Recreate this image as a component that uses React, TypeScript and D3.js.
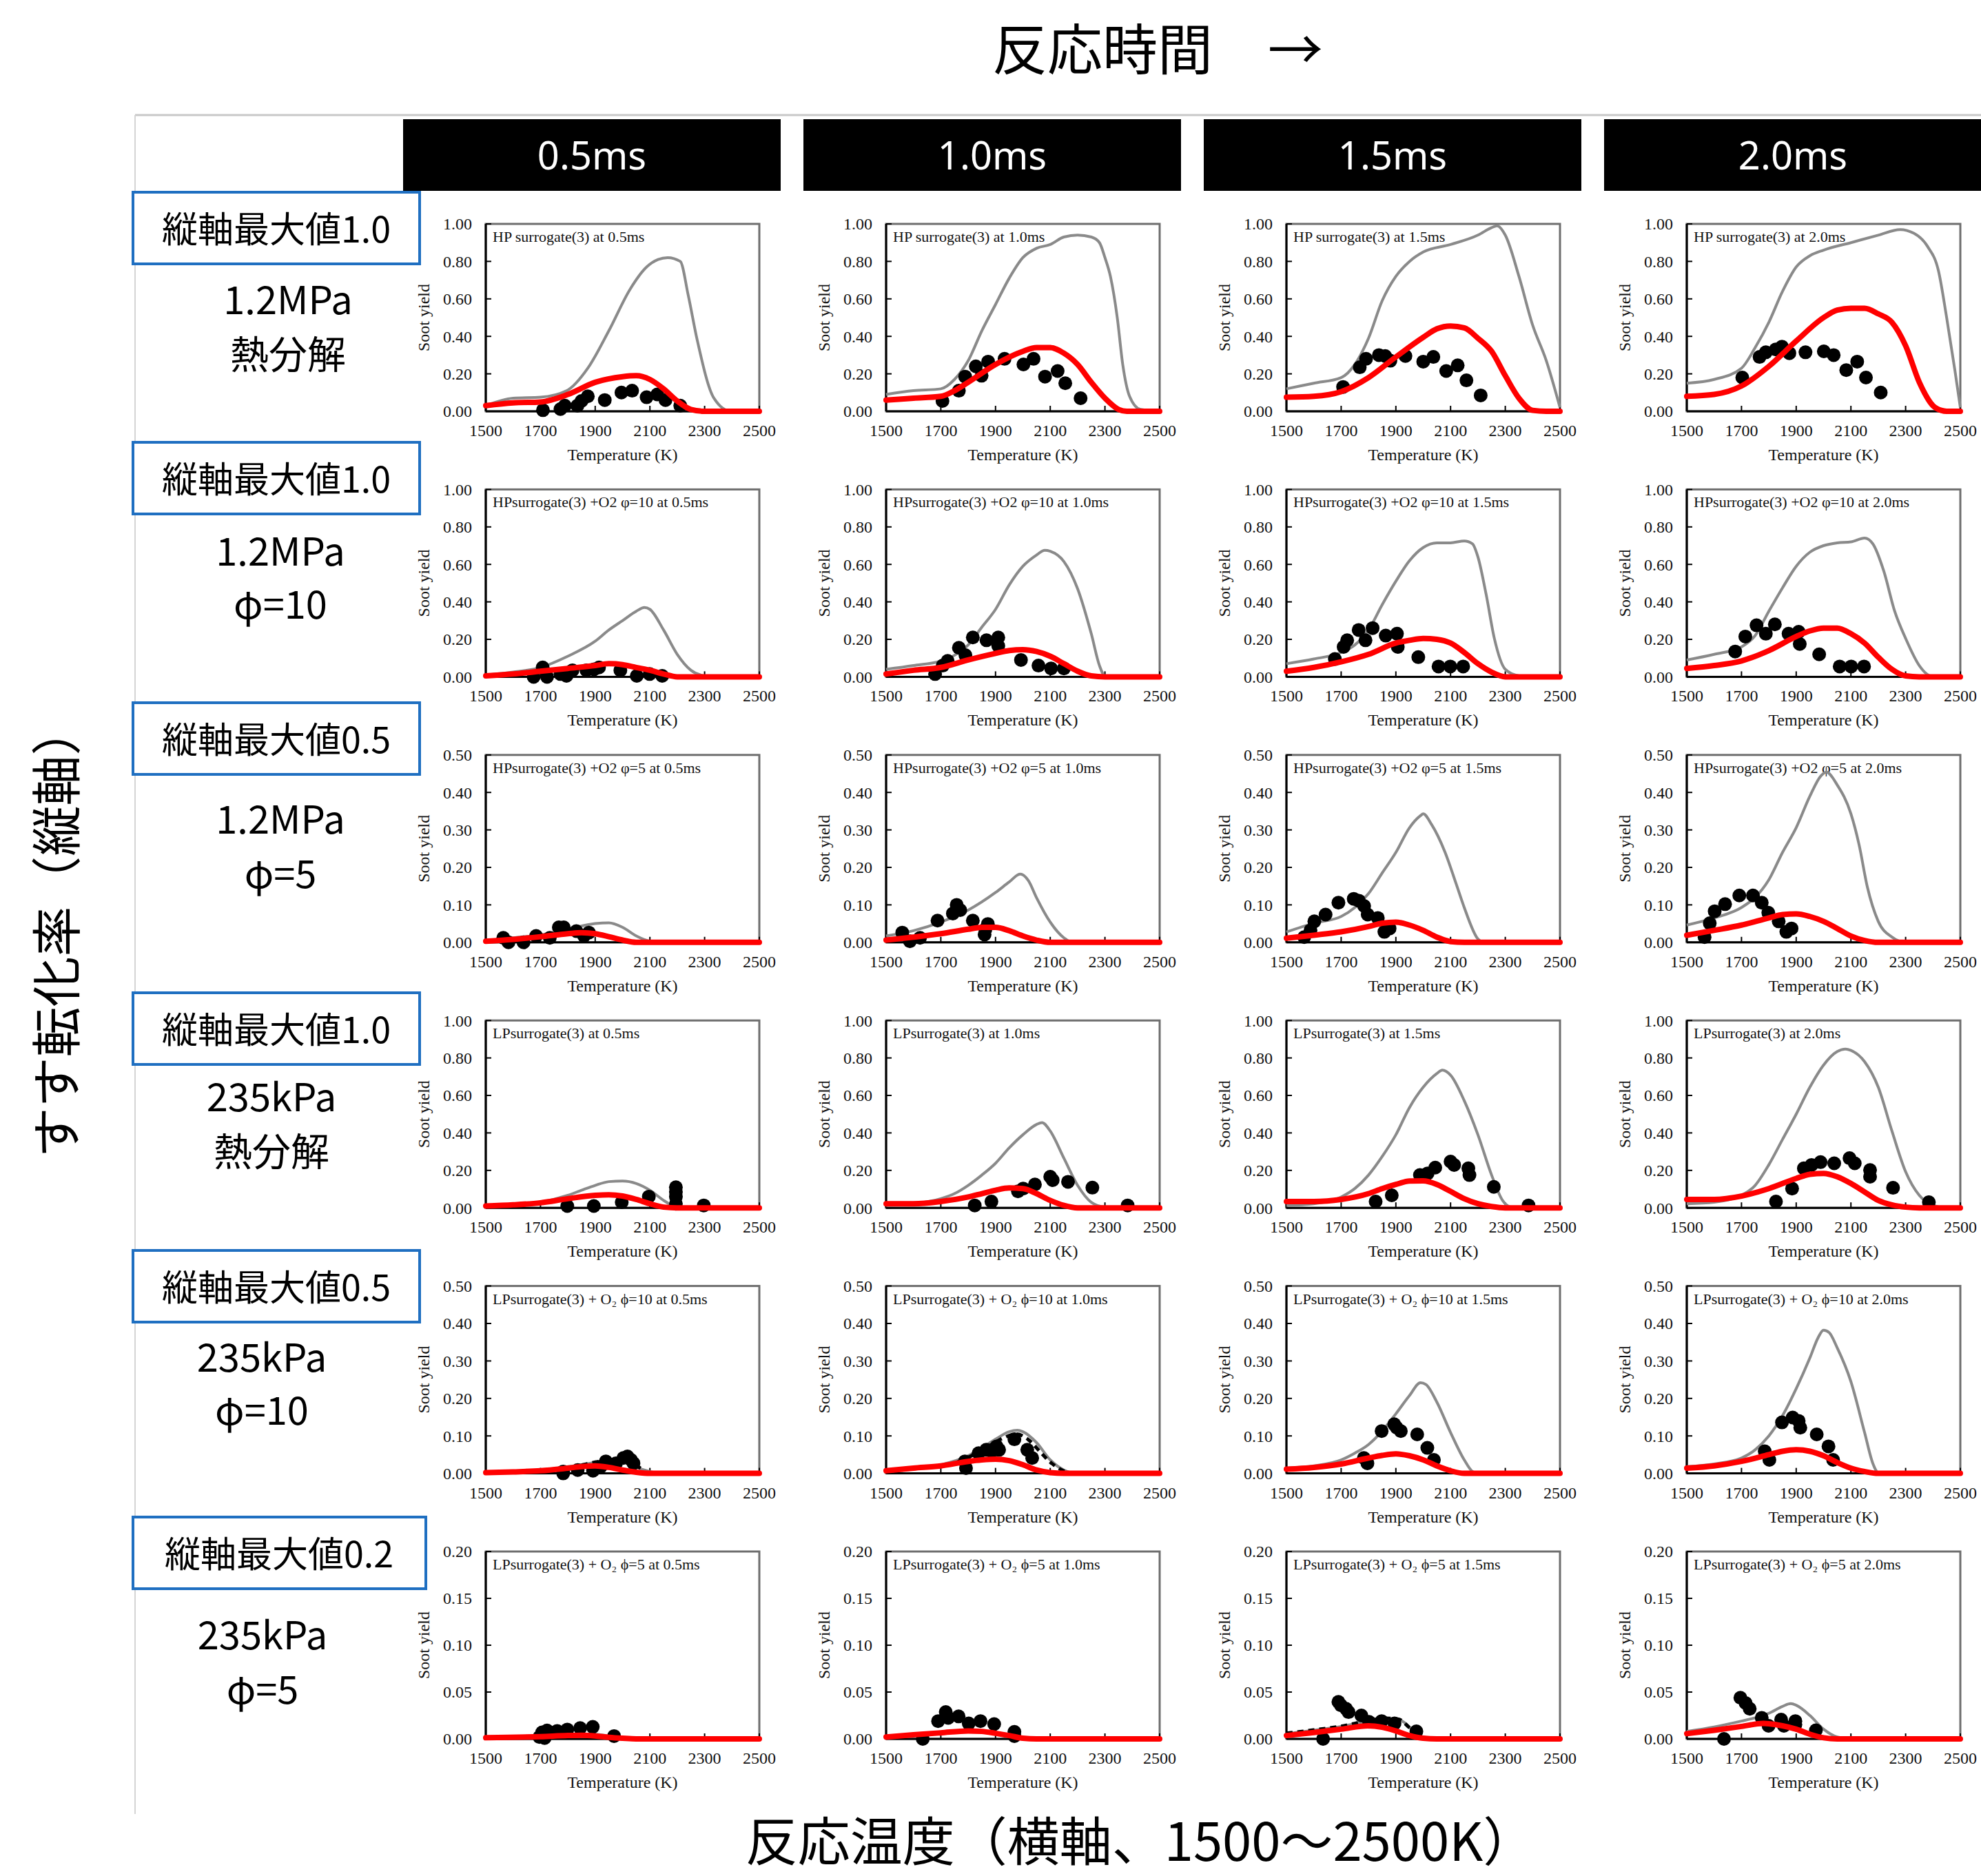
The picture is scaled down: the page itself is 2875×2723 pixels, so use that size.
import React from "react";
import * as d3 from "d3";

// ---------- labels ----------
const TIME_LABELS = ["0.5ms", "1.0ms", "1.5ms", "2.0ms"];
const ROW_MAX_LABELS = ["縦軸最大値1.0", "縦軸最大値1.0", "縦軸最大値0.5", "縦軸最大値1.0", "縦軸最大値0.5", "縦軸最大値0.2"];
const ROW_PRESSURE = ["1.2MPa", "1.2MPa", "1.2MPa", "235kPa", "235kPa", "235kPa"];
const ROW_CONDITION = ["熱分解", "φ=10", "φ=5", "熱分解", "φ=10", "φ=5"];
const TITLE_PREFIX = [
  "HP surrogate(3) at ",
  "HPsurrogate(3) +O2 φ=10 at ",
  "HPsurrogate(3) +O2 φ=5 at ",
  "LPsurrogate(3) at ",
  "LPsurrogate(3) + O₂  ϕ=10  at ",
  "LPsurrogate(3) + O₂  ϕ=5  at ",
];
const Y_MAX = [1, 1, 0.5, 1, 0.5, 0.2];
const Y_STEP = [0.2, 0.2, 0.1, 0.2, 0.1, 0.05];
const X_TICKS = [1500, 1700, 1900, 2100, 2300, 2500];

// ---------- data: row 1 (1.2MPa pyrolysis) ----------
const grayR1 = [
  [[1500,0.03],[1600,0.07],[1700,0.075],[1796,0.11],[1873,0.23],[1950,0.43],[2027,0.65],[2088,0.77],[2130,0.81],[2165,0.82],[2211,0.80],[2240,0.62],[2273,0.38],[2334,0.07],[2396,0],[2500,0]],
  [[1500,0.09],[1600,0.11],[1700,0.12],[1750,0.17],[1800,0.27],[1850,0.43],[1900,0.57],[1950,0.71],[2000,0.82],[2050,0.87],[2100,0.89],[2150,0.93],[2200,0.94],[2250,0.93],[2280,0.9],[2300,0.82],[2320,0.72],[2345,0.5],[2365,0.25],[2390,0.08],[2430,0.01],[2500,0]],
  [[1500,0.12],[1600,0.15],[1700,0.18],[1750,0.25],[1800,0.39],[1850,0.59],[1900,0.72],[1950,0.80],[2000,0.85],[2100,0.89],[2200,0.94],[2250,0.98],[2270,0.99],[2300,0.94],[2350,0.72],[2400,0.46],[2450,0.27],[2500,0.02]],
  [[1500,0.15],[1600,0.17],[1700,0.23],[1750,0.34],[1800,0.475],[1850,0.64],[1900,0.77],[1950,0.83],[2000,0.86],[2100,0.9],[2200,0.94],[2280,0.97],[2330,0.95],[2380,0.88],[2420,0.75],[2450,0.5],[2480,0.22],[2500,0.02]],
];
const redR1 = [
  [[1500,0.03],[1600,0.045],[1700,0.05],[1800,0.09],[1900,0.155],[2000,0.185],[2050,0.19],[2100,0.17],[2150,0.12],[2200,0.055],[2250,0.01],[2300,0],[2500,0]],
  [[1500,0.06],[1600,0.07],[1700,0.08],[1750,0.11],[1800,0.155],[1900,0.25],[2000,0.32],[2050,0.34],[2100,0.34],[2150,0.31],[2200,0.25],[2250,0.155],[2300,0.07],[2350,0.01],[2380,0],[2500,0]],
  [[1500,0.075],[1600,0.08],[1700,0.105],[1800,0.18],[1900,0.29],[2000,0.395],[2050,0.44],[2100,0.455],[2150,0.445],[2200,0.39],[2250,0.32],[2300,0.19],[2350,0.07],[2400,0.005],[2450,0],[2500,0]],
  [[1500,0.08],[1600,0.09],[1700,0.135],[1800,0.24],[1900,0.375],[2000,0.5],[2050,0.54],[2100,0.55],[2150,0.55],[2200,0.52],[2250,0.475],[2300,0.35],[2350,0.155],[2400,0.03],[2430,0.005],[2450,0],[2500,0]],
];
const dotsR1 = [
  [[1709,0.006],[1773,0.012],[1789,0.03],[1835,0.03],[1850,0.055],[1873,0.08],[1935,0.06],[1996,0.1],[2035,0.11],[2088,0.075],[2127,0.09],[2157,0.06],[2211,0.03]],
  [[1706,0.055],[1766,0.11],[1789,0.185],[1828,0.24],[1849,0.19],[1873,0.265],[1933,0.28],[2002,0.25],[2039,0.28],[2081,0.185],[2127,0.215],[2155,0.15],[2211,0.07]],
  [[1707,0.13],[1768,0.235],[1791,0.28],[1838,0.3],[1861,0.295],[1880,0.27],[1935,0.295],[2000,0.265],[2037,0.29],[2084,0.215],[2126,0.245],[2158,0.165],[2210,0.085]],
  [[1703,0.18],[1766,0.29],[1789,0.315],[1825,0.33],[1848,0.345],[1875,0.31],[1934,0.315],[2001,0.32],[2037,0.3],[2083,0.22],[2123,0.265],[2155,0.18],[2209,0.1]],
];

// ---------- row 2 (1.2MPa phi=10) ----------
const grayR2 = [
  [[1500,0.01],[1600,0.025],[1700,0.05],[1800,0.11],[1900,0.19],[1950,0.25],[2000,0.3],[2050,0.35],[2080,0.37],[2100,0.36],[2150,0.25],[2200,0.12],[2250,0.035],[2300,0.005],[2350,0],[2500,0]],
  [[1500,0.04],[1600,0.06],[1700,0.085],[1750,0.115],[1800,0.17],[1850,0.265],[1900,0.36],[1950,0.49],[2000,0.59],[2050,0.65],[2080,0.675],[2100,0.67],[2150,0.615],[2200,0.47],[2250,0.23],[2280,0.06],[2300,0.005],[2350,0],[2500,0]],
  [[1500,0.07],[1600,0.095],[1700,0.13],[1750,0.17],[1800,0.25],[1850,0.385],[1900,0.51],[1950,0.62],[2000,0.69],[2050,0.715],[2100,0.715],[2150,0.725],[2180,0.71],[2200,0.64],[2230,0.44],[2260,0.205],[2300,0.04],[2350,0.005],[2400,0],[2500,0]],
  [[1500,0.09],[1600,0.12],[1700,0.16],[1750,0.22],[1800,0.35],[1850,0.475],[1900,0.59],[1950,0.665],[2000,0.7],[2050,0.715],[2100,0.72],[2150,0.74],[2180,0.71],[2220,0.565],[2260,0.35],[2300,0.205],[2350,0.06],[2390,0.005],[2420,0],[2500,0]],
];
const redR2 = [
  [[1500,0.005],[1600,0.015],[1700,0.03],[1800,0.045],[1900,0.06],[1950,0.07],[2000,0.065],[2050,0.05],[2100,0.035],[2150,0.015],[2200,0],[2500,0]],
  [[1500,0.015],[1600,0.035],[1700,0.05],[1800,0.09],[1900,0.125],[1950,0.14],[2000,0.145],[2050,0.135],[2100,0.11],[2150,0.07],[2200,0.03],[2250,0.005],[2300,0],[2500,0]],
  [[1500,0.03],[1600,0.05],[1700,0.08],[1800,0.12],[1900,0.18],[1950,0.195],[2000,0.205],[2050,0.2],[2100,0.18],[2150,0.13],[2200,0.07],[2250,0.025],[2300,0],[2500,0]],
  [[1500,0.045],[1600,0.06],[1700,0.085],[1800,0.14],[1900,0.215],[1950,0.245],[2000,0.26],[2050,0.26],[2100,0.23],[2150,0.18],[2200,0.105],[2250,0.04],[2300,0.005],[2350,0],[2500,0]],
];
const dotsR2 = [
  [[1675,0],[1708,0.05],[1724,0],[1773,0.015],[1795,0.005],[1817,0.035],[1868,0.035],[1896,0.04],[1914,0.05],[1992,0.035],[2052,0.005],[2099,0.015],[2145,0.005]],
  [[1679,0.015],[1707,0.06],[1725,0.085],[1766,0.155],[1790,0.115],[1817,0.21],[1867,0.195],[1910,0.21],[1910,0.165],[1993,0.09],[2057,0.06],[2103,0.045],[2150,0.045]],
  [[1677,0.095],[1709,0.16],[1722,0.195],[1764,0.25],[1789,0.195],[1815,0.26],[1863,0.22],[1904,0.23],[1907,0.16],[1982,0.105],[2056,0.055],[2099,0.055],[2146,0.055]],
  [[1677,0.135],[1714,0.215],[1755,0.275],[1789,0.23],[1822,0.28],[1872,0.23],[1909,0.24],[1913,0.175],[1984,0.12],[2059,0.055],[2101,0.055],[2148,0.055]],
];

// ---------- row 3 (1.2MPa phi=5) ----------
const grayR3 = [
  [[1500,0.003],[1600,0.012],[1700,0.02],[1800,0.035],[1900,0.05],[1950,0.052],[2000,0.04],[2050,0.017],[2100,0.003],[2150,0],[2500,0]],
  [[1500,0.017],[1600,0.031],[1700,0.054],[1800,0.086],[1900,0.133],[1950,0.161],[1990,0.182],[2020,0.165],[2050,0.119],[2100,0.054],[2150,0.012],[2180,0],[2500,0]],
  [[1500,0.028],[1600,0.051],[1700,0.069],[1750,0.093],[1800,0.13],[1850,0.185],[1900,0.24],[1950,0.306],[1990,0.338],[2000,0.343],[2030,0.315],[2080,0.24],[2120,0.157],[2150,0.093],[2200,0.009],[2220,0],[2500,0]],
  [[1500,0.046],[1600,0.065],[1700,0.093],[1750,0.12],[1800,0.167],[1850,0.24],[1900,0.306],[1950,0.39],[1990,0.444],[2010,0.454],[2050,0.42],[2100,0.343],[2130,0.26],[2160,0.148],[2200,0.056],[2250,0.014],[2300,0],[2500,0]],
];
const redR3 = [
  [[1500,0.003],[1600,0.008],[1700,0.015],[1800,0.023],[1850,0.026],[1900,0.023],[1950,0.015],[2000,0.006],[2050,0],[2500,0]],
  [[1500,0.006],[1600,0.014],[1700,0.023],[1800,0.035],[1850,0.04],[1900,0.04],[1950,0.031],[2000,0.017],[2050,0.006],[2100,0],[2500,0]],
  [[1500,0.011],[1600,0.019],[1700,0.028],[1800,0.042],[1850,0.051],[1900,0.054],[1950,0.046],[2000,0.032],[2050,0.014],[2100,0.002],[2150,0],[2500,0]],
  [[1500,0.019],[1600,0.032],[1700,0.046],[1800,0.065],[1850,0.074],[1900,0.076],[1950,0.069],[2000,0.056],[2050,0.037],[2100,0.017],[2150,0.005],[2200,0],[2500,0]],
];
const dotsR3 = [
  [[1564,0.012],[1583,0],[1638,0],[1684,0.017],[1734,0.012],[1767,0.04],[1785,0.04],[1831,0.03],[1859,0.017],[1877,0.026]],
  [[1559,0.026],[1587,0.003],[1624,0.012],[1688,0.058],[1744,0.077],[1758,0.1],[1771,0.086],[1817,0.058],[1863,0.035],[1872,0.049],[1860,0.021]],
  [[1565,0.014],[1588,0.032],[1602,0.056],[1643,0.074],[1690,0.106],[1746,0.116],[1765,0.111],[1784,0.097],[1797,0.074],[1834,0.065],[1858,0.028],[1877,0.037]],
  [[1565,0.014],[1584,0.051],[1602,0.083],[1640,0.102],[1692,0.125],[1742,0.125],[1774,0.106],[1798,0.079],[1836,0.056],[1864,0.028],[1883,0.037]],
];

// ---------- row 4 (235kPa pyrolysis) ----------
const grayR4 = [
  [[1500,0.01],[1600,0.016],[1700,0.03],[1800,0.067],[1850,0.094],[1900,0.12],[1950,0.14],[2000,0.143],[2050,0.13],[2100,0.094],[2150,0.04],[2180,0.013],[2200,0],[2500,0]],
  [[1500,0.013],[1600,0.022],[1700,0.049],[1750,0.076],[1800,0.12],[1850,0.175],[1900,0.238],[1950,0.32],[2000,0.39],[2050,0.445],[2070,0.455],[2100,0.41],[2150,0.265],[2200,0.12],[2250,0.03],[2300,0.004],[2350,0],[2500,0]],
  [[1500,0.013],[1600,0.022],[1700,0.058],[1750,0.103],[1800,0.175],[1850,0.274],[1900,0.39],[1950,0.536],[2000,0.644],[2050,0.717],[2070,0.735],[2100,0.708],[2150,0.572],[2200,0.39],[2250,0.175],[2290,0.04],[2320,0.004],[2350,0],[2500,0]],
  [[1500,0.022],[1600,0.03],[1700,0.067],[1750,0.12],[1800,0.23],[1850,0.365],[1900,0.5],[1950,0.644],[2000,0.762],[2050,0.834],[2080,0.847],[2100,0.84],[2150,0.78],[2200,0.644],[2250,0.41],[2300,0.193],[2350,0.067],[2400,0.013],[2450,0],[2500,0]],
];
const redR4 = [
  [[1500,0.01],[1600,0.016],[1700,0.027],[1800,0.049],[1900,0.067],[1950,0.07],[2000,0.063],[2050,0.045],[2100,0.022],[2150,0.004],[2200,0],[2500,0]],
  [[1500,0.022],[1600,0.022],[1700,0.034],[1800,0.058],[1850,0.076],[1900,0.094],[1950,0.106],[2000,0.103],[2050,0.076],[2100,0.04],[2150,0.013],[2200,0],[2500,0]],
  [[1500,0.034],[1600,0.034],[1700,0.045],[1800,0.076],[1850,0.103],[1900,0.125],[1950,0.143],[2000,0.144],[2050,0.125],[2100,0.088],[2150,0.049],[2200,0.022],[2250,0.007],[2300,0],[2500,0]],
  [[1500,0.045],[1600,0.045],[1700,0.063],[1800,0.103],[1900,0.157],[1950,0.179],[2000,0.184],[2050,0.166],[2100,0.13],[2150,0.085],[2200,0.04],[2250,0.016],[2300,0.004],[2350,0],[2500,0]],
];
const dotsR4 = [
  [[1798,0.01],[1895,0.01],[1997,0.03],[2096,0.06],[2195,0.11],[2195,0.085],[2195,0.06],[2195,0.022],[2297,0.013]],
  [[1824,0.013],[1885,0.034],[1982,0.088],[2001,0.103],[2044,0.125],[2100,0.166],[2109,0.148],[2165,0.139],[2254,0.108],[2383,0.013]],
  [[1826,0.034],[1885,0.067],[1988,0.175],[2016,0.184],[2044,0.215],[2100,0.247],[2113,0.229],[2165,0.211],[2169,0.175],[2258,0.112],[2385,0.013]],
  [[1826,0.034],[1885,0.103],[1928,0.211],[1956,0.229],[1989,0.244],[2039,0.238],[2095,0.265],[2114,0.238],[2170,0.202],[2170,0.166],[2254,0.107],[2385,0.03]],
];

// ---------- row 5 (235kPa phi=10) ----------
const grayR5 = [
  [[1500,0.002],[1600,0.005],[1700,0.009],[1800,0.018],[1900,0.029],[1950,0.034],[2000,0.032],[2050,0.016],[2100,0.005],[2150,0],[2500,0]],
  [[1500,0.005],[1600,0.011],[1700,0.023],[1800,0.047],[1850,0.068],[1900,0.091],[1950,0.111],[1980,0.115],[2000,0.111],[2050,0.082],[2100,0.036],[2150,0.009],[2200,0],[2500,0]],
  [[1500,0.014],[1600,0.02],[1700,0.036],[1750,0.054],[1800,0.077],[1850,0.113],[1900,0.159],[1950,0.208],[1990,0.242],[2010,0.237],[2050,0.19],[2100,0.109],[2150,0.036],[2180,0.005],[2200,0],[2500,0]],
  [[1500,0.018],[1600,0.025],[1700,0.041],[1750,0.063],[1800,0.1],[1850,0.154],[1900,0.226],[1950,0.308],[1980,0.362],[2000,0.382],[2020,0.376],[2050,0.335],[2100,0.245],[2150,0.109],[2180,0.027],[2200,0.002],[2250,0],[2500,0]],
];
const redR5 = [
  [[1500,0.002],[1600,0.004],[1700,0.007],[1800,0.014],[1850,0.018],[1900,0.02],[1950,0.016],[2000,0.009],[2050,0.003],[2100,0],[2500,0]],
  [[1500,0.007],[1600,0.014],[1700,0.02],[1800,0.032],[1850,0.036],[1900,0.038],[1950,0.034],[2000,0.023],[2050,0.009],[2100,0.002],[2150,0],[2500,0]],
  [[1500,0.011],[1600,0.016],[1700,0.025],[1800,0.041],[1850,0.048],[1900,0.052],[1950,0.047],[2000,0.036],[2050,0.02],[2100,0.007],[2150,0],[2500,0]],
  [[1500,0.014],[1600,0.02],[1700,0.032],[1800,0.05],[1850,0.059],[1900,0.063],[1950,0.059],[2000,0.047],[2050,0.029],[2100,0.014],[2150,0.005],[2200,0],[2500,0]],
];
const dotsR5 = [
  [[1783,0],[1783,0.005],[1836,0.009],[1892,0.007],[1920,0.018],[1939,0.032],[1976,0.027],[2003,0.041],[2018,0.045],[2031,0.036],[2040,0.027]],
  [[1792,0.014],[1788,0.032],[1838,0.054],[1866,0.063],[1885,0.059],[1904,0.072],[1913,0.063],[1969,0.091],[2016,0.063],[2034,0.041]],
  [[1783,0.041],[1796,0.027],[1848,0.113],[1894,0.131],[1903,0.122],[1918,0.113],[1978,0.104],[2015,0.068],[2039,0.036]],
  [[1785,0.059],[1802,0.036],[1848,0.136],[1887,0.149],[1909,0.14],[1915,0.122],[1975,0.104],[2018,0.072],[2035,0.036]],
];
const dashR5 = [
  [[1850,0.022],[1900,0.03],[1950,0.035],[2000,0.034],[2050,0.02],[2080,0.008]],
  [[1760,0.03],[1820,0.05],[1880,0.075],[1930,0.095],[1975,0.105],[2020,0.09],[2060,0.06],[2100,0.03],[2140,0.01],[2170,0]],
  [],
  [],
];

// ---------- row 6 (235kPa phi=5) ----------
const grayR6 = [
  [[1500,0.001],[1700,0.003],[1800,0.005],[1900,0.005],[1950,0.003],[2000,0.001],[2050,0],[2500,0]],
  [[1500,0.0015],[1600,0.004],[1700,0.006],[1800,0.008],[1850,0.0075],[1900,0.0055],[1950,0.003],[2000,0.0005],[2050,0],[2500,0]],
  [[1500,0.0056],[1600,0.0092],[1700,0.0133],[1800,0.019],[1850,0.0213],[1900,0.0213],[1930,0.0177],[1970,0.0068],[2000,0.002],[2050,0],[2500,0]],
  [[1500,0.008],[1600,0.0128],[1700,0.019],[1750,0.0225],[1800,0.0274],[1850,0.0347],[1880,0.0376],[1900,0.0359],[1950,0.025],[2000,0.0104],[2050,0.002],[2100,0],[2500,0]],
];
const redR6 = [
  [[1500,0.0012],[1700,0.0024],[1800,0.0036],[1850,0.0039],[1900,0.0032],[1950,0.0017],[2000,0.0007],[2050,0],[2500,0]],
  [[1500,0.002],[1600,0.0044],[1700,0.0065],[1800,0.0085],[1850,0.008],[1900,0.006],[1950,0.0036],[2000,0.0007],[2050,0],[2500,0]],
  [[1500,0.0036],[1600,0.0068],[1700,0.0104],[1800,0.014],[1850,0.0124],[1900,0.0085],[1950,0.0036],[2000,0.0007],[2050,0],[2500,0]],
  [[1500,0.0056],[1600,0.0092],[1700,0.0133],[1780,0.0165],[1800,0.0162],[1850,0.014],[1900,0.0104],[1950,0.005],[2000,0.0012],[2050,0],[2500,0]],
];
const dotsR6 = [
  [[1696,0.002],[1706,0.007],[1724,0.009],[1761,0.0085],[1798,0.01],[1845,0.0116],[1891,0.0128],[1969,0.003],[1715,0.001]],
  [[1634,0],[1690,0.019],[1718,0.0286],[1727,0.0225],[1765,0.024],[1802,0.0165],[1845,0.019],[1895,0.0158],[1969,0.0075],[1969,0.003]],
  [[1634,0],[1690,0.0395],[1699,0.0359],[1718,0.0322],[1727,0.0286],[1774,0.025],[1802,0.0182],[1848,0.019],[1895,0.0165],[1975,0.008]],
  [[1636,0],[1696,0.0439],[1715,0.0383],[1730,0.0322],[1774,0.0225],[1799,0.014],[1845,0.0206],[1855,0.014],[1897,0.019],[1897,0.0153],[1972,0.0092]],
];
const dashR6 = [
  [],
  [],
  [[1500,0.006],[1600,0.0095],[1700,0.0135],[1800,0.0195],[1860,0.022],[1910,0.021],[1950,0.012],[1990,0.003],[2020,0]],
  [],
];

const GRAY = [grayR1, grayR2, grayR3, grayR4, grayR5, grayR6];
const RED = [redR1, redR2, redR3, redR4, redR5, redR6];
const DOTS = [dotsR1, dotsR2, dotsR3, dotsR4, dotsR5, dotsR6];
const DASH = [[[], [], [], []], [[], [], [], []], [[], [], [], []], [[], [], [], []], dashR5, dashR6];

// ---------- layout ----------
const W = 2875;
const H = 2723;
const PLOT_LEFT = 705;
const COL_STEP = 581;
const PLOT_W = 397;
const PLOT_TOP = 325;
const ROW_STEP = 385.4;
const PLOT_H = 272;
const BOX_TOPS = [279, 642, 1020, 1441, 1815, 2202];
const LABEL_X = [418, 407, 407, 394, 380, 381];
const LABEL_Y1 = [436, 801, 1190, 1593, 1971, 2374];
const LABEL_Y2 = [515, 878, 1269, 1672, 2048, 2453];

const SERIF = "'Liberation Serif', 'Times New Roman', serif";
const JP = "'Noto Sans CJK JP', 'Noto Sans', sans-serif";

function Panel({ r, c }: { r: number; c: number }) {
  const x0 = PLOT_LEFT + c * COL_STEP;
  const y0 = PLOT_TOP + r * ROW_STEP;
  const x = d3.scaleLinear().domain([1500, 2500]).range([x0, x0 + PLOT_W]);
  const y = d3.scaleLinear().domain([0, Y_MAX[r]]).range([y0 + PLOT_H, y0]);
  const line = d3
    .line<number[]>()
    .x((d) => x(d[0]))
    .y((d) => y(d[1]))
    .curve(d3.curveMonotoneX);
  const nT = Math.round(Y_MAX[r] / Y_STEP[r]);
  const yTicks = d3.range(0, nT + 1).map((i) => i * Y_STEP[r]);
  const fmt = d3.format(".2f");
  const dash = DASH[r][c];
  return (
    <g>
      <rect x={x0} y={y0} width={PLOT_W} height={PLOT_H} fill="#fff" stroke="#6e6e6e" strokeWidth={3} />
      <line x1={x0} x2={x0} y1={y0} y2={y0 + PLOT_H} stroke="#000" strokeWidth={3} />
      <line x1={x0} x2={x0 + PLOT_W} y1={y0 + PLOT_H} y2={y0 + PLOT_H} stroke="#000" strokeWidth={3} />
      {yTicks.map((t, i) => (
        <g key={"yt" + i}>
          <line x1={x0} x2={x0 + 8} y1={y(t)} y2={y(t)} stroke="#000" strokeWidth={2} />
          <text x={x0 - 20} y={y(t)} dy="0.35em" textAnchor="end" fontFamily={SERIF} fontSize={24} fill="#111">
            {fmt(t)}
          </text>
        </g>
      ))}
      {X_TICKS.map((t, i) => (
        <g key={"xt" + i}>
          <line x1={x(t)} x2={x(t)} y1={y0 + PLOT_H} y2={y0 + PLOT_H - 8} stroke="#000" strokeWidth={2} />
          <text x={x(t)} y={y0 + PLOT_H + 36} textAnchor="middle" fontFamily={SERIF} fontSize={24} fill="#111">
            {t}
          </text>
        </g>
      ))}
      <text x={x0 + PLOT_W / 2} y={y0 + PLOT_H + 71} textAnchor="middle" fontFamily={SERIF} fontSize={24} fill="#111">
        Temperature (K)
      </text>
      <text
        transform={`translate(${x0 - 90},${y0 + PLOT_H / 2}) rotate(-90)`}
        textAnchor="middle"
        dy="0.35em"
        fontFamily={SERIF}
        fontSize={24}
        fill="#111"
      >
        Soot yield
      </text>
      <text x={x0 + 10} y={y0 + 26} fontFamily={SERIF} fontSize={22} fill="#111">
        {TITLE_PREFIX[r] + TIME_LABELS[c]}
      </text>
      <path d={line(GRAY[r][c]) || ""} fill="none" stroke="#8a8a8a" strokeWidth={4} strokeLinejoin="round" />
      {dash.length > 0 && (
        <path d={line(dash) || ""} fill="none" stroke="#000" strokeWidth={5} strokeDasharray="9,7" />
      )}
      {DOTS[r][c].map((d, i) => (
        <circle key={"p" + i} cx={x(d[0])} cy={y(d[1])} r={10} fill="#000" />
      ))}
      <path d={line(RED[r][c]) || ""} fill="none" stroke="#ff0000" strokeWidth={8} strokeLinejoin="round" strokeLinecap="round" />
    </g>
  );
}

export default function App() {
  const rows = d3.range(6);
  const cols = d3.range(4);
  return (
    <svg
      width={W}
      height={H}
      viewBox={`0 0 ${W} ${H}`}
      style={{ position: "absolute", left: 0, top: 0, display: "block", background: "#fff" }}
    >
      <rect x={0} y={0} width={W} height={H} fill="#fff" />
      {/* titles */}
      <text x={1680} y={72} dy="0.36em" textAnchor="middle" fontFamily={JP} fontSize={80} fill="#000">
        反応時間　→
      </text>
      <text x={1655} y={2674} dy="0.36em" textAnchor="middle" fontFamily={JP} fontSize={76} fill="#000">
        反応温度（横軸、1500～2500K）
      </text>
      <text
        transform="translate(83,1352) rotate(-90)"
        dy="0.36em"
        textAnchor="middle"
        fontFamily={JP}
        fontSize={73}
        fill="#000"
      >
        すす転化率（縦軸）
      </text>
      {/* frame lines */}
      <line x1={196} x2={W} y1={167} y2={167} stroke="#c8c8c8" strokeWidth={3} />
      <line x1={196} x2={196} y1={167} y2={2633} stroke="#d4d4d4" strokeWidth={2} />
      {/* column headers */}
      {cols.map((c) => {
        const hx = PLOT_LEFT + c * COL_STEP - 120;
        return (
          <g key={"h" + c}>
            <rect x={hx} y={173} width={548} height={104} fill="#000" />
            <text x={hx + 274} y={226} dy="0.36em" textAnchor="middle" fontFamily="'Noto Sans', sans-serif" fontSize={56} fill="#fff">
              {TIME_LABELS[c]}
            </text>
          </g>
        );
      })}
      {/* row labels */}
      {rows.map((r) => (
        <g key={"rl" + r}>
          <rect x={193} y={BOX_TOPS[r]} width={r === 5 ? 425 : 416} height={104} fill="#fff" stroke="#1f6fc1" strokeWidth={4} />
          <text x={193 + (r === 5 ? 212 : 208)} y={BOX_TOPS[r] + 54} dy="0.36em" textAnchor="middle" fontFamily={JP} fontSize={52} fill="#000">
            {ROW_MAX_LABELS[r]}
          </text>
          <text x={LABEL_X[r]} y={LABEL_Y1[r]} dy="0.36em" textAnchor="middle" fontFamily={JP} fontSize={56} fill="#000">
            {ROW_PRESSURE[r]}
          </text>
          <text x={LABEL_X[r]} y={LABEL_Y2[r]} dy="0.36em" textAnchor="middle" fontFamily={JP} fontSize={56} fill="#000">
            {ROW_CONDITION[r]}
          </text>
        </g>
      ))}
      {/* panels */}
      {rows.map((r) => cols.map((c) => <Panel key={`p${r}-${c}`} r={r} c={c} />))}
    </svg>
  );
}
